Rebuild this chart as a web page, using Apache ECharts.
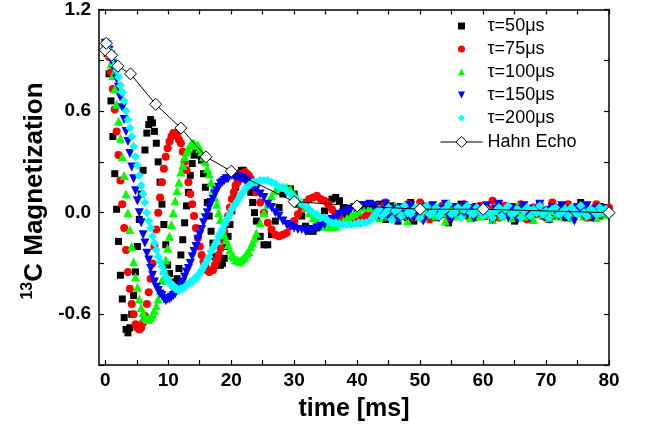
<!DOCTYPE html>
<html><head><meta charset="utf-8">
<script src="https://cdn.jsdelivr.net/npm/echarts@6/dist/echarts.min.js"></script>
<style>html,body{margin:0;padding:0;background:#fff}#c{width:649px;height:432px}</style>
</head><body><div id="c"></div>
<script>
// ---- data ----
const time = [0,0.3,0.6,0.9,1.2,1.5,1.8,2.1,2.4,2.7,3,3.3,3.6,3.9,4.2,4.5,4.8,5.1,5.4,5.7,6,6.3,6.6,6.9,7.2,7.5,7.8,8.1,8.4,8.7,9,9.3,9.6,9.9,10.2,10.5,10.8,11.1,11.4,11.7,12,12.3,12.6,12.9,13.2,13.5,13.8,14.1,14.4,14.7,15,15.3,15.6,15.9,16.2,16.5,16.8,17.1,17.4,17.7,18,18.3,18.6,18.9,19.2,19.5,19.8,20.1,20.4,20.7,21,21.3,21.6,21.9,22.2,22.5,22.8,23.1,23.4,23.7,24,
24.6,25.2,25.8,26.4,27,27.6,28.2,28.8,29.4,30,30.6,31.2,31.8,32.4,33,33.6,34.2,34.8,35.4,36,36.6,37.2,37.8,38.4,39,39.6,40.2,40.8,41.4,42,
42.5,43,43.5,44,44.5,45,45.5,46,46.5,47,47.5,48,48.5,49,49.5,50,50.5,51,51.5,52,52.5,53,53.5,54,54.5,55,55.5,56,56.5,57,57.5,58,58.5,59,59.5,60,60.5,61,61.5,62,62.5,63,63.5,64,64.5,65,65.5,66,66.5,67,67.5,68,68.5,69,69.5,70,70.5,71,71.5,72,72.5,73,73.5,74,74.5,75,75.5,76,76.5,77,77.5,78,78.5,79,79.5,80];

const tau50 = [1.00,.94,.82,.66,.45,.23,.02,-.17,-.37,-.51,
-.62,-.69,-.71,-.68,-.60,-.49,-.35,-.20,-.04,.11,
.25,.37,.47,.52,.55,.53,.48,.41,.30,.18,
.05,-.07,-.19,-.31,-.36,-.41,-.43,-.43,-.39,-.33,
-.25,-.16,-.06,.04,.12,.22,.29,.34,.36,.37,
.34,.31,.23,.15,.06,-.02,-.11,-.18,-.26,-.29,
-.31,-.31,-.30,-.27,-.20,-.14,-.07,.01,.08,.15,
.19,.23,.25,.25,.22,.21,.17,.12,.06,.00,
-.05,
-.14,-.19,-.19,-.13,-.05,.03,.11,.14,.14,.11,.05,-.02,-.08,-.11,-.11,-.09,-.04,.01,.06,.08,.09,.07,.03,-.01,-.04,-.06,-.06,-.05,-.03,.00,
.03,-.02,.05,.00,-.04,.02,.04,-.01,-.05,.02,
.01,-.03,.06,-.05,.02,.00,.04,-.02,.01,.03,
-.03,.00,.02,-.01,-.06,.03,.01,-.02,.05,.00,
-.01,.03,-.03,.02,.00,-.02,.03,.01,-.04,.02,
.05,-.01,.00,.03,-.02,-.05,.01,.04,-.03,.02,
.00,-.01,.03,.05,-.02,.01,-.04,.02,.00,.03,
-.01,-.03,.04,.01,-.02,.02,.06,-.01,.00,-.03,
.02,.04,-.02,.01,.03,.00];

const tau75 = [1.00,.97,.92,.83,.73,.61,.48,.34,.19,.05,
-.09,-.22,-.35,-.45,-.54,-.60,-.66,-.68,-.69,-.68,
-.65,-.61,-.54,-.47,-.39,-.30,-.20,-.10,.00,.09,
.18,.26,.33,.38,.42,.45,.47,.47,.46,.43,
.41,.36,.30,.25,.18,.11,.05,-.02,-.09,-.15,
-.20,-.25,-.29,-.32,-.34,-.35,-.34,-.34,-.31,-.28,
-.25,-.21,-.16,-.11,-.06,-.02,.03,.08,.12,.16,
.18,.20,.23,.23,.24,.23,.22,.20,.18,.16,
.12,
.06,.00,-.06,-.10,-.13,-.14,-.13,-.12,-.08,-.05,-.01,.02,.06,.08,.09,.10,.08,.07,.05,.02,-.01,-.03,-.05,-.06,-.06,-.06,-.05,-.03,-.02,.00,
.01,.04,-.02,.03,.06,-.01,.02,-.03,.03,.01,
-.02,.05,.00,-.03,.02,.06,-.01,.01,-.04,.03,
.02,-.02,.04,.00,-.03,.01,.03,-.01,.02,.05,
-.02,.00,.03,-.01,.04,.01,-.02,.02,.07,.00,
-.03,.02,.04,-.01,.01,.03,-.02,.05,.00,-.04,
.02,.03,-.01,.04,.01,-.03,.02,.06,-.02,.00,
.03,-.01,.05,.01,-.02,.03,.00,.04,-.03,.02,
.01,.05,-.01,.02,.00,.03];

const tau100 = [1.00,.97,.94,.88,.81,.73,.64,.54,.44,.33,
.22,.11,.00,-.10,-.20,-.29,-.38,-.44,-.51,-.56,
-.59,-.62,-.63,-.63,-.62,-.60,-.58,-.55,-.51,-.46,
-.40,-.34,-.28,-.21,-.14,-.07,.00,.07,.13,.18,
.24,.28,.33,.36,.38,.40,.41,.41,.40,.40,
.38,.36,.33,.30,.26,.23,.18,.14,.09,.05,
.00,-.04,-.09,-.13,-.16,-.19,-.22,-.25,-.26,-.28,
-.28,-.29,-.28,-.27,-.26,-.24,-.23,-.20,-.18,-.15,
-.12,
-.06,.00,.05,.10,.13,.15,.15,.15,.14,.11,.08,.06,.03,.00,-.03,-.05,-.06,-.08,-.08,-.08,-.08,-.06,-.05,-.03,-.02,.00,.01,.03,.04,.03,
-.01,.02,-.03,.01,.03,-.02,.00,.04,-.03,-.01,
.02,-.05,.01,.03,-.02,.00,-.03,.02,.04,-.01,
-.02,.03,.00,-.05,.02,.01,-.02,.03,-.01,.00,
.02,-.03,.01,.03,-.02,.00,.02,-.01,-.04,.01,
.03,-.02,.00,.02,-.03,.01,.04,-.01,-.02,.02,
.00,-.04,.01,.03,-.01,.02,-.03,.00,.02,-.02,
.01,.03,-.01,-.03,.02,.00,.04,-.02,.01,-.01,
.02,-.03,.00,.02,-.01,.01];

const tau150 = [1.00,.99,.96,.93,.88,.84,.79,.74,.68,.62,
.55,.48,.42,.35,.27,.20,.13,.07,.00,-.06,
-.13,-.18,-.24,-.28,-.33,-.37,-.41,-.44,-.46,-.48,
-.49,-.51,-.52,-.51,-.51,-.50,-.49,-.48,-.46,-.45,
-.43,-.41,-.38,-.35,-.33,-.30,-.26,-.23,-.20,-.16,
-.13,-.10,-.06,-.03,.00,.03,.06,.08,.11,.13,
.15,.17,.18,.19,.20,.20,.22,.22,.22,.21,
.21,.21,.20,.20,.19,.18,.18,.16,.16,.15,
.14,
.11,.09,.05,.03,.00,-.02,-.05,-.07,-.08,-.09,-.10,-.10,-.11,-.10,-.10,-.09,-.08,-.07,-.05,-.04,-.03,-.01,.00,.01,.02,.03,.04,.04,.04,.05,
.04,.03,-.02,.01,.05,-.03,.02,.00,-.05,.03,
.01,-.02,.04,-.03,.00,.02,-.05,.03,-.01,.04,
.00,-.03,.02,.05,-.02,-.04,.03,.01,-.03,.04,
-.01,.02,-.03,.03,.00,-.02,.04,-.01,-.04,.02,
.05,-.02,.01,-.03,.03,.00,-.04,.02,.04,-.01,
-.03,.02,.00,.05,-.02,.01,-.04,.03,.01,-.02,
.04,-.03,.00,.02,-.05,.03,.01,-.02,.04,.00,
-.03,.02,.03,-.01,.01,-.02];

const tau200 = [1.00,.99,.96,.94,.91,.87,.84,.80,.75,.71,
.66,.60,.55,.50,.45,.39,.33,.28,.22,.16,
.11,.06,.00,-.05,-.09,-.14,-.18,-.22,-.26,-.29,
-.32,-.35,-.38,-.39,-.41,-.43,-.43,-.45,-.45,-.46,
-.45,-.45,-.44,-.43,-.42,-.41,-.41,-.39,-.39,-.37,
-.36,-.34,-.32,-.30,-.28,-.26,-.23,-.21,-.19,-.17,
-.14,-.12,-.10,-.07,-.05,-.03,-.01,.02,.04,.05,
.07,.09,.11,.12,.14,.15,.16,.17,.18,.18,
.18,
.19,.19,.19,.18,.17,.15,.15,.13,.11,.09,.07,.05,.04,.02,.00,-.01,-.03,-.03,-.05,-.06,-.06,-.07,-.07,-.07,-.07,-.07,-.06,-.06,-.06,-.05,
-.03,-.01,.02,-.02,.00,.03,-.04,.01,.02,-.02,
.04,.00,-.01,.02,.03,-.03,.01,.04,-.01,.00,
.03,-.02,.01,.02,.05,-.01,.00,.03,-.03,.02,
.04,.00,-.01,.03,.01,-.02,.02,.00,-.03,.01,
.03,-.02,.02,.04,-.01,.00,.02,-.03,.01,.03,
-.02,.02,.00,.04,-.01,.01,-.03,.02,.03,-.01,
.00,.02,-.02,.03,.01,-.01,.04,.00,-.02,.02,
.01,-.01,.03,.00,.02,-.01];

const hahnTime = [0,0.15,1,2,4,8,12,16,20,30,40,50,60,80];
const hahnEcho = [0.96,1.0,0.93,0.865,0.82,0.64,0.50,0.33,0.245,0.065,0.04,0.02,0.02,0.0];

const seriesNames = ['τ=50μs','τ=75μs','τ=100μs','τ=150μs','τ=200μs'];
const hahnName = 'Hahn Echo';
const xLabelValues = [0,10,20,30,40,50,60,70,80];
const xTickValues = [0,5,10,15,20,25,30,35,40,45,50,55,60,65,70,75,80];
const yLabelValues = [-0.6,0,0.6,1.2];
const yTickValues = [-0.9,-0.6,-0.3,0,0.3,0.6,0.9,1.2];

// ---- styling ----
const FONT = '"Liberation Sans", Arial, Helvetica, sans-serif';
const colors = ['#000000','#ff0000','#00ff00','#0000ff','#00ffff'];
const symbols = ['rect','circle','triangle','triangle','diamond'];
const rotates = [0,0,0,180,0];
const sizes = [7,8,9,9,9];
const legendIcons = ['path://M0,0H10V10H0Z','path://M5,0A5,5,0,1,1,5,10A5,5,0,1,1,5,0Z','path://M5,0L10,10L0,10Z','path://M0,0L10,0L5,10Z','path://M5,0L10,5L5,10L0,5Z'];
const valuesList = [tau50,tau75,tau100,tau150,tau200];

const axisLine = {show:true, onZero:false, lineStyle:{color:'#000', width:1.5}};
const tickStyle = {color:'#000', width:1.2};
const labelFont = {color:'#000', fontFamily:FONT, fontWeight:'bold', fontSize:19};

const series = valuesList.map((vals, i) => ({
  type:'scatter', name: seriesNames[i],
  data: time.map((t, j) => [t, vals[j]]),
  symbol: symbols[i], symbolRotate: rotates[i], symbolSize: sizes[i],
  itemStyle:{color: colors[i], opacity:1},
  z: 2
}));
series.push({
  type:'line', name: hahnName,
  data: hahnTime.map((t, j) => [t, hahnEcho[j]]),
  symbol:'diamond', symbolSize:12,
  itemStyle:{color:'#fff', borderColor:'#000', borderWidth:1},
  lineStyle:{color:'#000', width:1},
  z: 5
});

const chart = echarts.init(document.getElementById('c'), null, {renderer:'canvas'});
chart.setOption({
  animation:false,
  backgroundColor:'#fff',
  grid:{left:99, right:40, top:6, bottom:67, containLabel:false},
  xAxis:[
    {type:'value', min:-1, max:80, position:'bottom',
     axisLine: axisLine,
     axisTick:{show:true, inside:true, length:5, lineStyle:tickStyle, customValues:xTickValues},
     axisLabel:Object.assign({show:true, margin:6, customValues:xLabelValues, formatter: v => String(v)}, labelFont),
     splitLine:{show:false},
     name:'time [ms]', nameLocation:'middle', nameGap:32,
     nameTextStyle:{color:'#000', fontFamily:FONT, fontWeight:'bold', fontSize:25}},
    {type:'value', min:-1, max:80, position:'top',
     axisLine: axisLine,
     axisTick:{show:true, inside:true, length:5, lineStyle:tickStyle, customValues:xTickValues},
     axisLabel:{show:false}, splitLine:{show:false}}
  ],
  yAxis:[
    {type:'value', min:-0.9, max:1.2, position:'left',
     axisLine: axisLine,
     axisTick:{show:true, inside:true, length:5, lineStyle:tickStyle, customValues:yTickValues},
     axisLabel:Object.assign({show:true, margin:8, customValues:yLabelValues, formatter: v => v.toFixed(1)}, labelFont),
     splitLine:{show:false}},
    {type:'value', min:-0.9, max:1.2, position:'right',
     axisLine: axisLine,
     axisTick:{show:true, inside:true, length:5, lineStyle:tickStyle, customValues:yTickValues},
     axisLabel:{show:false}, splitLine:{show:false}}
  ],
  legend:[
    {orient:'vertical', left:458, top:17, padding:0, itemGap:5, itemWidth:42, itemHeight:7,
     selectedMode:false,
     textStyle:{color:'#000', fontFamily:FONT, fontSize:18},
     data: seriesNames.map((n, i) => ({name:n, icon: legendIcons[i]}))},
    {orient:'vertical', left:440, top:133, padding:0, itemWidth:42, itemHeight:14,
     selectedMode:false,
     textStyle:{color:'#000', fontFamily:FONT, fontSize:18},
     data:[{name:hahnName, itemStyle:{color:'#fff', borderColor:'#000', borderWidth:1}, lineStyle:{color:'#000', width:1}}]}
  ],
  graphic:[{
    type:'text', x:34, y:191, rotation:Math.PI/2,
    style:{
      text:'{s|13}{m|C Magnetization}', align:'center', verticalAlign:'middle', fill:'#000',
      rich:{
        s:{fontSize:16, fontWeight:'bold', fontFamily:FONT, fill:'#000', verticalAlign:'top', lineHeight:28},
        m:{fontSize:26, fontWeight:'bold', fontFamily:FONT, fill:'#000', verticalAlign:'bottom', lineHeight:28}
      }
    }
  }],
  series: series
});
</script>
</body></html>
